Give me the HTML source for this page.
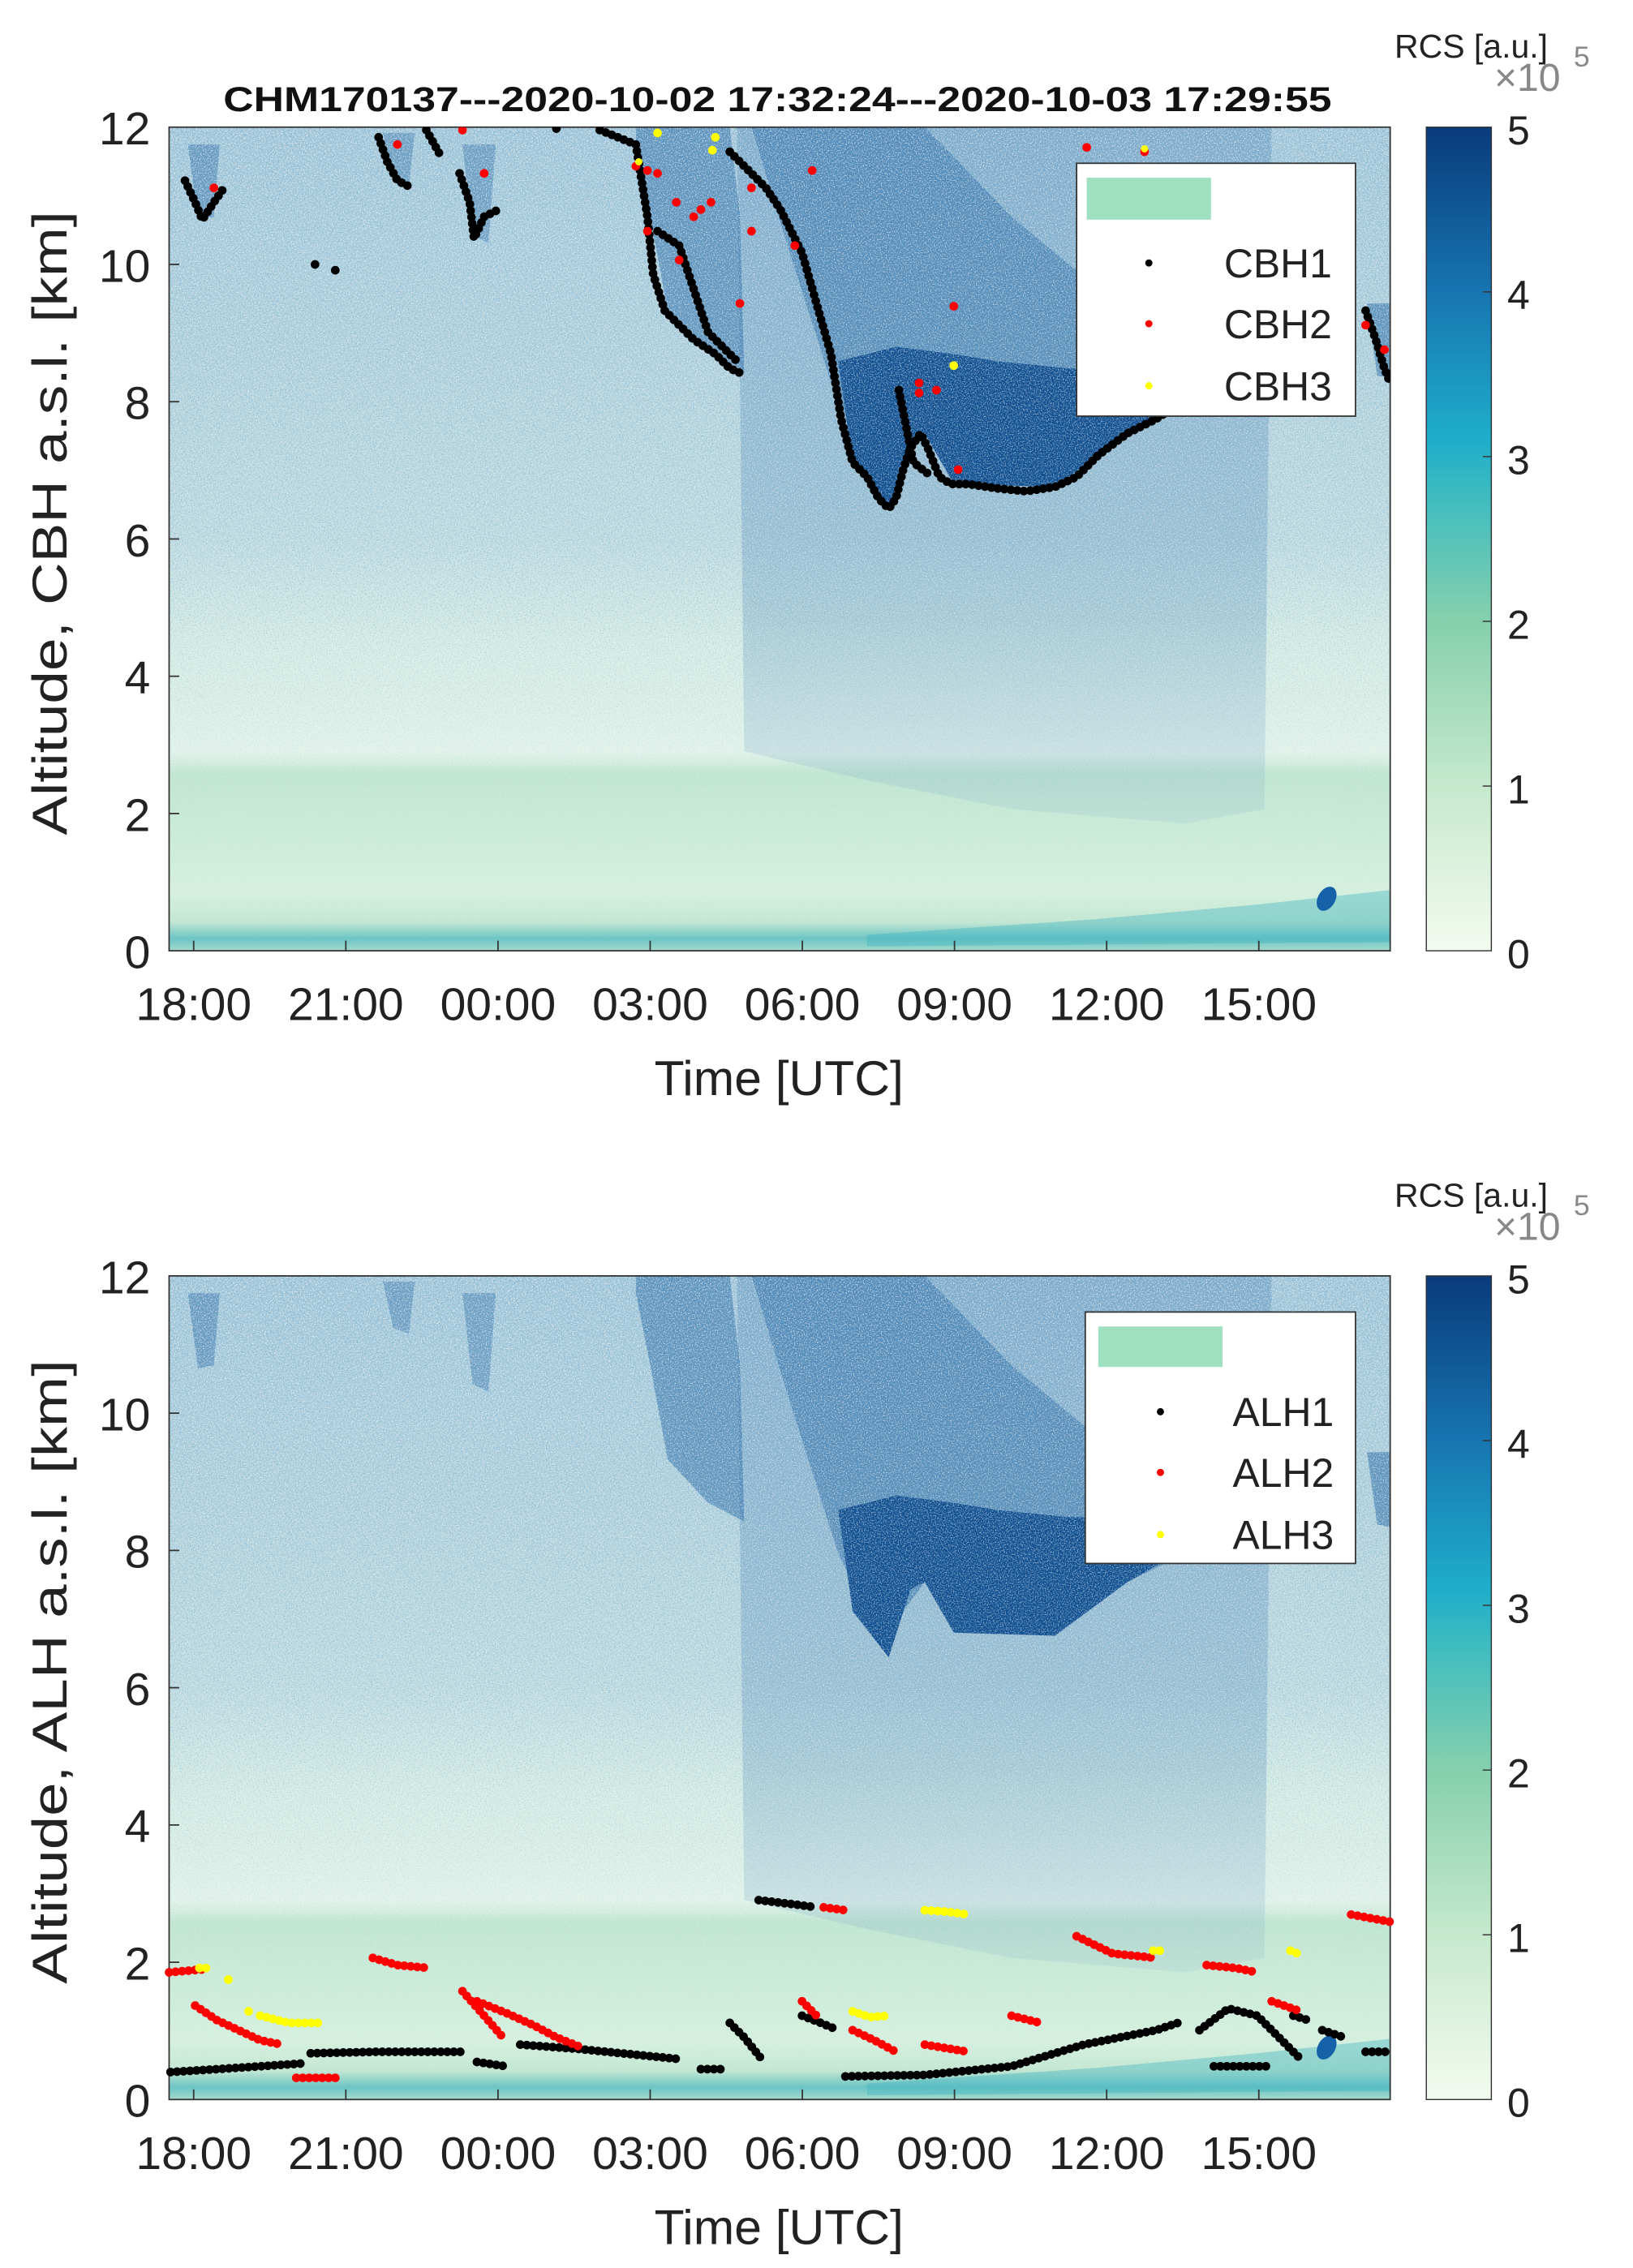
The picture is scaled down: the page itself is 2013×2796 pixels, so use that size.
<!DOCTYPE html>
<html><head><meta charset="utf-8"><style>html,body{margin:0;padding:0;background:#fff}svg{display:block}</style></head>
<body>
<svg width="2013" height="2796" viewBox="0 0 1130 1569.6" xmlns="http://www.w3.org/2000/svg" font-family="Liberation Sans, Arial, sans-serif">
<defs>
<linearGradient id="bg" x1="0" y1="88" x2="0" y2="658" gradientUnits="userSpaceOnUse">
<stop offset="0" stop-color="#a3c6d8"/>
<stop offset="0.5" stop-color="#bedadf"/>
<stop offset="0.62" stop-color="#d4ebe3"/>
<stop offset="0.76" stop-color="#e2f3ea"/>
<stop offset="0.785" stop-color="#c2e6d1"/>
<stop offset="0.85" stop-color="#cbebd8"/>
<stop offset="0.93" stop-color="#d6f0df"/>
<stop offset="0.965" stop-color="#c4e7d3"/>
<stop offset="0.985" stop-color="#6cc4c4"/>
<stop offset="1" stop-color="#a5dacd"/>
</linearGradient>
<linearGradient id="fade" x1="0" y1="88" x2="0" y2="658" gradientUnits="userSpaceOnUse">
<stop offset="0" stop-color="#fff" stop-opacity="1"/>
<stop offset="0.55" stop-color="#fff" stop-opacity="0.7"/>
<stop offset="0.8" stop-color="#fff" stop-opacity="0.15"/>
<stop offset="1" stop-color="#fff" stop-opacity="0"/>
</linearGradient>
<linearGradient id="diff" x1="0" y1="88" x2="0" y2="658" gradientUnits="userSpaceOnUse">
<stop offset="0" stop-color="#3d78b0" stop-opacity="0.35"/>
<stop offset="0.6" stop-color="#4f86b8" stop-opacity="0.3"/>
<stop offset="0.85" stop-color="#6e9cc4" stop-opacity="0.12"/>
<stop offset="1" stop-color="#6e9cc4" stop-opacity="0"/>
</linearGradient>
<mask id="nm"><rect x="117" y="88" width="845" height="570" fill="url(#fade)"/></mask>
<filter id="noise" filterUnits="userSpaceOnUse" x="117" y="88" width="845" height="570">
<feTurbulence type="fractalNoise" baseFrequency="1.2" numOctaves="1" seed="3"/>
<feColorMatrix type="matrix" values="0 0 0 0 1  0 0 0 0 1  0 0 0 0 1  0 0 0 3 -1.4"/>
</filter>
<filter id="noise2" filterUnits="userSpaceOnUse" x="117" y="88" width="845" height="570">
<feTurbulence type="fractalNoise" baseFrequency="1.1" numOctaves="1" seed="9"/>
<feColorMatrix type="matrix" values="0 0 0 0 0.12  0 0 0 0 0.4  0 0 0 0 0.66  0 0 0 3 -1.5"/>
</filter>
<linearGradient id="cb" x1="0" y1="1" x2="0" y2="0">
<stop offset="0" stop-color="#f3fbf0"/>
<stop offset="0.2" stop-color="#c6e9cc"/>
<stop offset="0.4" stop-color="#86d0ad"/>
<stop offset="0.55" stop-color="#3fbcbf"/>
<stop offset="0.62" stop-color="#1eaecb"/>
<stop offset="0.8" stop-color="#1775b1"/>
<stop offset="1" stop-color="#0a3b7c"/>
</linearGradient>
<clipPath id="pc"><rect x="117" y="88" width="845" height="570"/></clipPath>
<g id="heat" clip-path="url(#pc)">
<rect x="117" y="88" width="845" height="570" fill="url(#bg)"/>
<polygon points="510,88 880,88 875,560 820,570 700,560 600,540 515,520" fill="url(#diff)"/>
<polygon points="520,88 640,88 700,150 760,200 830,230 860,240 840,270 780,300 700,330 640,300 610,340 580,280 545,170" fill="#2c6ca6" opacity="0.55"/>
<polygon points="440,88 505,88 512,150 515,258 490,245 462,215 450,150 440,100" fill="#2f6ea8" opacity="0.6"/>
<polygon points="580,250 590,320 615,352 630,305 640,300 660,335 730,337 780,300 815,280 790,255 740,255 690,250 660,245 620,240" fill="#0c4a8c"/>
<polygon points="130,100 152,100 148,150 137,152" fill="#2c6ca6" opacity="0.5"/>
<polygon points="265,92 287,92 283,128 272,124" fill="#2c6ca6" opacity="0.45"/>
<polygon points="320,100 343,100 338,168 327,163" fill="#2c6ca6" opacity="0.45"/>
<polygon points="946,210 962,210 962,262 953,260" fill="#2c6ca6" opacity="0.6"/>
<polygon points="600,647 760,636 870,626 962,616 962,652 600,655" fill="#3fb5c0" opacity="0.4"/>
<rect x="117" y="88" width="845" height="570" filter="url(#noise)" mask="url(#nm)" opacity="0.8"/>
<rect x="117" y="88" width="845" height="570" filter="url(#noise2)" mask="url(#nm)" opacity="0.7"/>
<ellipse cx="918" cy="622" rx="6" ry="9" fill="#1562a8" transform="rotate(30 918 622)"/>
</g>
<g id="cbar">
<rect x="987" y="88" width="45" height="570" fill="url(#cb)" stroke="#333" stroke-width="0.8"/>
<g stroke="#333" stroke-width="0.8"><line x1="1026" y1="202" x2="1032" y2="202"/><line x1="1026" y1="316" x2="1032" y2="316"/><line x1="1026" y1="430" x2="1032" y2="430"/><line x1="1026" y1="544" x2="1032" y2="544"/></g>
<g font-size="28" fill="#222"><text x="1043" y="100">5</text><text x="1043" y="214">4</text><text x="1043" y="328">3</text><text x="1043" y="442">2</text><text x="1043" y="556">1</text><text x="1043" y="670">0</text></g>
<text x="965" y="40" font-size="23" fill="#222">RCS [a.u.]</text>
<text x="1034" y="63" font-size="27" fill="#888">×10</text>
<text x="1089" y="46" font-size="20" fill="#888">5</text>
</g>
<g id="axes">
<rect x="117" y="88" width="845" height="570" fill="none" stroke="#333" stroke-width="1"/>
<g stroke="#333" stroke-width="1">
<line x1="134" y1="658" x2="134" y2="651"/><line x1="239.3" y1="658" x2="239.3" y2="651"/><line x1="344.6" y1="658" x2="344.6" y2="651"/><line x1="449.9" y1="658" x2="449.9" y2="651"/><line x1="555.2" y1="658" x2="555.2" y2="651"/><line x1="660.5" y1="658" x2="660.5" y2="651"/><line x1="765.8" y1="658" x2="765.8" y2="651"/><line x1="871.1" y1="658" x2="871.1" y2="651"/>
<line x1="117" y1="183" x2="124" y2="183"/><line x1="117" y1="278" x2="124" y2="278"/><line x1="117" y1="373" x2="124" y2="373"/><line x1="117" y1="468" x2="124" y2="468"/><line x1="117" y1="563" x2="124" y2="563"/>
</g>
<g font-size="32" fill="#222" text-anchor="middle">
<text x="134" y="706">18:00</text><text x="239.3" y="706">21:00</text><text x="344.6" y="706">00:00</text><text x="449.9" y="706">03:00</text><text x="555.2" y="706">06:00</text><text x="660.5" y="706">09:00</text><text x="765.8" y="706">12:00</text><text x="871.1" y="706">15:00</text>
</g>
<g font-size="32" fill="#222" text-anchor="end">
<text x="104" y="100">12</text><text x="104" y="195">10</text><text x="104" y="290">8</text><text x="104" y="385">6</text><text x="104" y="480">4</text><text x="104" y="575">2</text><text x="104" y="670">0</text>
</g>
<text x="539" y="758" font-size="34" fill="#222" text-anchor="middle">Time [UTC]</text>
</g>
</defs>

<!-- Plot 1 -->
<use href="#heat"/>
<use href="#axes"/>
<use href="#cbar"/>
<text x="538" y="77" font-size="24" font-weight="bold" fill="#111" text-anchor="middle" textLength="767" lengthAdjust="spacingAndGlyphs">CHM170137---2020-10-02 17:32:24---2020-10-03 17:29:55</text>
<text transform="translate(46,362) rotate(-90)" font-size="34" fill="#222" text-anchor="middle" textLength="432" lengthAdjust="spacingAndGlyphs">Altitude, CBH a.s.l. [km]</text>
<g clip-path="url(#pc)" fill="none" stroke-linecap="round" stroke-linejoin="round" stroke-dasharray="0 4.5">
<g stroke="#000" stroke-width="6">
<path d="M128,125 L135,140 L140,152 L148,140 L155,130"/>
<path d="M262,95 L268,112 L275,125 L285,130"/>
<path d="M295,90 L305,108"/>
<path d="M318,120 L325,140 L328,165 L335,150 L345,145"/>
<path d="M415,90 L440,100 L448,150 L452,190 L460,215 L470,225 L480,235 L495,245 L505,255 L512,258"/>
<path d="M455,160 L470,170 L480,200 L490,230 L510,250"/>
<path d="M505,105 L520,120 L530,130 L540,145 L555,175 L565,210 L575,245 L582,290 L590,320 L600,330 L608,345 L615,352 L620,345 L625,325 L630,310 L637,300 L642,310 L650,330 L658,335 L670,335 L690,338 L710,340 L730,337 L745,330 L760,315 L780,300 L800,290 L815,280"/>
<path d="M622,270 L628,300 L632,320 L645,330"/>
<path d="M945,215 L952,235 L958,255 L962,265"/>
</g>
<g fill="#000" stroke="none"><circle cx="218" cy="183" r="3"/><circle cx="232" cy="187" r="3"/><circle cx="385" cy="89" r="3"/></g>
<g fill="#f00" stroke="none">
<circle cx="148" cy="130" r="3"/><circle cx="275" cy="100" r="3"/><circle cx="320" cy="90" r="3"/><circle cx="335" cy="120" r="3"/><circle cx="440" cy="115" r="3"/><circle cx="448" cy="118" r="3"/><circle cx="455" cy="120" r="3"/><circle cx="448" cy="160" r="3"/><circle cx="470" cy="180" r="3"/><circle cx="485" cy="145" r="3"/><circle cx="492" cy="140" r="3"/><circle cx="480" cy="150" r="3"/><circle cx="520" cy="130" r="3"/><circle cx="520" cy="160" r="3"/><circle cx="550" cy="170" r="3"/><circle cx="512" cy="210" r="3"/><circle cx="562" cy="118" r="3"/><circle cx="660" cy="212" r="3"/><circle cx="636" cy="265" r="3"/><circle cx="636" cy="272" r="3"/><circle cx="648" cy="270" r="3"/><circle cx="663" cy="325" r="3"/><circle cx="752" cy="102" r="3"/><circle cx="792" cy="105" r="3"/><circle cx="945" cy="225" r="3"/><circle cx="958" cy="242" r="3"/><circle cx="468" cy="140" r="3"/>
</g>
<g fill="#ff0" stroke="none"><circle cx="455" cy="92" r="3"/><circle cx="495" cy="95" r="3"/><circle cx="493" cy="104" r="3"/><circle cx="660" cy="253" r="3"/><circle cx="792" cy="103" r="2.5"/><circle cx="442" cy="112" r="2.5"/></g>
</g>
<g>
<rect x="745" y="113" width="193" height="175" fill="#fff" stroke="#333" stroke-width="1"/>
<rect x="752" y="123" width="86" height="29" fill="#9ee0bf"/>
<circle cx="795" cy="182" r="2.5" fill="#000"/><circle cx="795" cy="224" r="2.5" fill="#f00"/><circle cx="795" cy="267" r="2.5" fill="#ff0"/>
<g font-size="28" fill="#222"><text x="847" y="192">CBH1</text><text x="847" y="234">CBH2</text><text x="847" y="277">CBH3</text></g>
</g>

<!-- Plot 2 -->
<g transform="translate(0,795)">
<use href="#heat"/>
<use href="#axes"/>
<use href="#cbar"/>
<text transform="translate(46,362) rotate(-90)" font-size="34" fill="#222" text-anchor="middle" textLength="432" lengthAdjust="spacingAndGlyphs">Altitude, ALH a.s.l. [km]</text>
</g>
<g fill="none" stroke-linecap="round" stroke-linejoin="round" stroke-dasharray="0 4.5" stroke-width="6">
<g stroke="#000">
<path d="M118,1434 L150,1432 L180,1430 L210,1428"/>
<path d="M215,1421 L260,1420 L320,1420"/>
<path d="M330,1427 L350,1430"/>
<path d="M360,1415 L400,1418 L440,1422 L470,1425"/>
<path d="M485,1432 L500,1432"/>
<path d="M505,1400 L515,1410 L527,1425"/>
<path d="M525,1315 L550,1318 L565,1320"/>
<path d="M555,1395 L568,1400 L580,1405"/>
<path d="M585,1437 L640,1436 L700,1430 L750,1415 L800,1405 L815,1400"/>
<path d="M830,1405 L850,1390 L870,1395 L885,1410 L900,1425"/>
<path d="M840,1430 L860,1430 L880,1430"/>
<path d="M915,1405 L930,1410"/>
<path d="M945,1420 L962,1420"/>
<path d="M895,1395 L905,1398"/>
</g>
<g stroke="#f00">
<path d="M117,1365 L140,1363"/>
<path d="M135,1388 L150,1398 L165,1405 L180,1412 L195,1415"/>
<path d="M205,1438 L235,1438"/>
<path d="M258,1355 L275,1360 L297,1362"/>
<path d="M320,1378 L335,1395 L348,1410"/>
<path d="M330,1385 L350,1393 L370,1402 L385,1410 L400,1416"/>
<path d="M555,1385 L565,1395"/>
<path d="M570,1320 L585,1322"/>
<path d="M590,1405 L605,1412 L620,1420"/>
<path d="M640,1415 L670,1420"/>
<path d="M700,1395 L720,1400"/>
<path d="M745,1340 L770,1352 L800,1355"/>
<path d="M835,1360 L855,1362 L870,1365"/>
<path d="M880,1385 L900,1392"/>
<path d="M935,1325 L962,1330"/>
</g>
<g stroke="#ff0">
<path d="M138,1362 L145,1362"/>
<path d="M180,1395 L200,1400 L220,1400"/>
<path d="M590,1392 L602,1396 L615,1395"/>
<path d="M640,1322 L655,1323 L670,1325"/>
<path d="M798,1350 L803,1350"/>
<path d="M893,1350 L898,1352"/>
</g>
</g>
<g fill="#ff0"><circle cx="158" cy="1370" r="3"/><circle cx="172" cy="1392" r="3"/></g>
<g>
<rect x="751" y="908" width="187" height="174" fill="#fff" stroke="#333" stroke-width="1"/>
<rect x="760" y="918" width="86" height="28" fill="#9ee0bf"/>
<circle cx="803" cy="977" r="2.5" fill="#000"/><circle cx="803" cy="1019" r="2.5" fill="#f00"/><circle cx="803" cy="1062" r="2.5" fill="#ff0"/>
<g font-size="28" fill="#222"><text x="853" y="987">ALH1</text><text x="853" y="1029">ALH2</text><text x="853" y="1072">ALH3</text></g>
</g>
</svg>
</body></html>
